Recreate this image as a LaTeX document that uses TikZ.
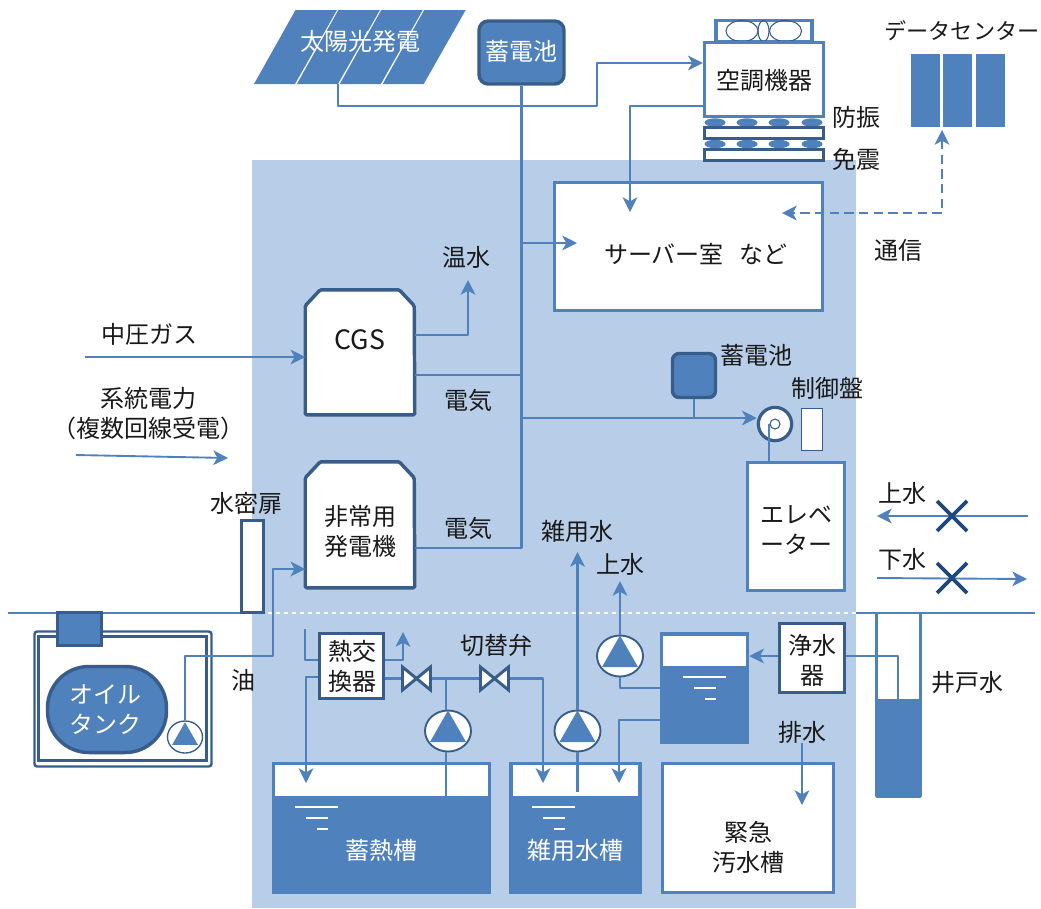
\documentclass[tikz,border=0pt]{standalone}
\usepackage{fontspec}
\setmainfont{Noto Sans CJK JP}
\usetikzlibrary{arrows.meta,shapes.geometric}
\definecolor{mainblue}{HTML}{4F81BD}
\definecolor{darkblue}{HTML}{385D8A}
\definecolor{lightblue}{HTML}{B8CEE8}
\definecolor{crossblue}{HTML}{1F497D}
\tikzset{
	boxsize/.style 2 args={minimum width=(#1-1)*.75pt,minimum height=(#2-1)*.75pt},
	lbl/.style={font=\fontsize{18}{22.5}\selectfont,align=center,inner sep=0pt,text=black!90},
	wlbl/.style={lbl,text=white},
	wire/.style={draw=mainblue,line width=1.75pt,line join=round},
	thinwire/.style={draw=mainblue,line width=1.4pt,line join=round},
	tip/.style={-{Stealth[inset=3pt,length=11pt,width=11pt]}},
	bluebox/.style={rectangle,draw=mainblue,line width=2.6pt,fill=white,inner sep=0pt},
	darkbox/.style={rectangle,draw=darkblue,line width=2.6pt,fill=white,inner sep=0pt},
	battery/.style={rectangle,rounded corners=7pt,draw=darkblue,line width=2.6pt,fill=mainblue,inner sep=0pt},
	wave/.style={draw=white,line width=.9pt},
	cross/.style={draw=crossblue,line width=2.8pt}
}
\begin{document}
\begin{tikzpicture}[x=.75pt,y=-.75pt]
	\useasboundingbox (0,0) rectangle (1041,908);
	\fill[lightblue] (252,160) rectangle (856,908);
	\coordinate (groundA) at (8,613);
	\coordinate (groundB) at (252,613);
	\coordinate (groundC) at (856,613);
	\coordinate (groundD) at (1035,613);
	\draw[mainblue,line width=1.1pt] (groundA) -- (groundB);
	\draw[mainblue,line width=1.1pt] (groundC) -- (groundD);
	\draw[white,line width=1pt,dashed] (groundB) -- (groundC);

	% solar panels and the top row
	\foreach \x in {0,1,2,3}{
		\fill[mainblue] (254+\x*42.9,84) -- (295.5+\x*42.9,10) -- (337+\x*42.9,10) -- (295+\x*42.9,84) -- cycle;
	}
	\node[wlbl] (solar) at (360,41) {太陽光発電};
	\coordinate (solarOut) at (338,84);
	\node[battery,boxsize={86}{64}] (batteryTop) at (521.5,52.5) {};
	\node[wlbl] (batteryTopText) at (521.5,51) {蓄電池};

	% cooling unit
	\node[bluebox,boxsize={97}{22}] (fanBox) at (764,31) {};
	\foreach \x/\r in {742/16,763.5/5.5,785.5/16}{
		\draw[darkblue,line width=.8pt] (\x,31) ellipse ({\r} and {10.5});
	}
	\node[bluebox,boxsize={120}{75}] (cooler) at (764,79.5) {};
	\node[lbl] (coolerText) at (764,80) {空調機器};
	\foreach \y in {122.5,144}{
		\foreach \x in {715,747,779,812}{
			\fill[mainblue] (\x,\y) ellipse ({10.5} and {4.2});
		}
	}
	\node[darkbox,boxsize={120}{12}] (padA) at (764,133) {};
	\node[darkbox,boxsize={120}{12}] (padB) at (764,155) {};
	\node[lbl] (padAText) at (856,117) {防振};
	\node[lbl] (padBText) at (856,159) {免震};

	% data center
	\foreach \x/\name in {925.5/dcA,957.5/dcB,990.5/dcC}{
		\node[rectangle,fill=mainblue,boxsize={30}{74},inner sep=0pt] (\name) at (\x,90.5) {};
	}
	\node[lbl,font=\fontsize{16.6}{20}\selectfont] (dcText) at (962,31) {データセンター};

	% room and generators
	\node[bluebox,boxsize={269}{129}] (room) at (688.5,246.5) {};
	\node[lbl] (roomText) at (696,254) {サーバー室\hspace{12pt}など};
	\node[inner sep=0pt,boxsize={110}{126}] (cgs) at (360,352) {};
	\node[inner sep=0pt,boxsize={110}{127}] (generator) at (360,524.5) {};
	\foreach \name/\h in {cgs/109,generator/110}{
		\draw[darkblue,line width=2.6pt,fill=white,line join=round,rounded corners=1pt]
			(\name.south west) -- ++(0,-\h) -- ++(15,-16) -- ++(79,0) -- ++(15,16) -- (\name.south east) -- cycle;
	}
	\node[lbl,font=\fontsize{20}{24}\selectfont] (cgsText) at (360,340) {CGS};
	\node[lbl] (generatorText) at (360,531) {非常用\\発電機};
	\node[darkbox,boxsize={23}{93}] (door) at (252.5,566.5) {};
	\node[lbl] (doorText) at (246,503) {水密扉};

	% elevator
	\node[bluebox,boxsize={98}{129}] (elevator) at (796,526.5) {};
	\node[lbl] (elevatorText) at (796,530) {エレベ\\ーター};
	\node[battery,rounded corners=5pt,boxsize={44}{45}] (batterySmall) at (694,375.5) {};
	\node[circle,draw=darkblue,line width=2.4pt,fill=white,minimum size=25pt,inner sep=0pt] (motor) at (775,424) {};
	\node[circle,draw=darkblue,line width=.8pt,fill=white,minimum size=7.5pt,inner sep=0pt] (sheave) at (775,424) {};
	\node[rectangle,draw=darkblue,line width=.9pt,fill=white,boxsize={22}{43},inner sep=0pt] (panel) at (812,429.5) {};
	\node[lbl] (batterySmallText) at (756,355) {蓄電池};
	\node[lbl] (panelText) at (827,388) {制御盤};
	\coordinate (ropeTop) at (769,424);
	\draw[thinwire] (ropeTop) -- (ropeTop |- elevator.north);

	% oil tank outside
	\node[darkbox,rounded corners=2pt,line width=1.8pt,boxsize={178}{136}] (oilRoom) at (123,699) {};
	\node[darkbox,line width=1.8pt,boxsize={169}{125}] (oilRoomIn) at (122.5,698.5) {};
	\node[darkbox,fill=mainblue,line width=2pt,boxsize={45}{34}] (hatch) at (79.5,629) {};
	\node[darkbox,fill=mainblue,rounded corners=31pt,boxsize={120}{87}] (oilTank) at (107,709.5) {};
	\node[wlbl] (oilTankText) at (105,710) {オイル\\タンク};

	% tanks
	\node[bluebox,boxsize={217}{130}] (heatTank) at (381.5,828) {};
	\fill[mainblue] (heatTank.west |- 0,796) rectangle (heatTank.south east);
	\node[bluebox,boxsize={130}{130}] (greyTank) at (575.5,828) {};
	\fill[mainblue] (greyTank.west |- 0,796) rectangle (greyTank.south east);
	\node[bluebox,boxsize={172}{130}] (wasteTank) at (748,828) {};
	\node[bluebox,boxsize={87}{109}] (cleanTank) at (704.5,688) {};
	\fill[mainblue] (cleanTank.west |- 0,666) rectangle (cleanTank.south east);
	\node[inner sep=0pt,boxsize={44}{183}] (well) at (898.5,704.5) {};
	\fill[mainblue] (well.west |- 0,699) rectangle (well.south east);
	\draw[mainblue,line width=2.6pt,line join=round] (well.north west) -- (well.south west) -- (well.south east) -- (well.north east);
	\foreach \x/\y in {295/807,532/807,683/677}{
		\draw[wave] (\x,\y) -- ++(43,0);
		\draw[wave] (\x+11,\y+11) -- ++(22,0);
		\draw[wave] (\x+22,\y+22) -- ++(11,0);
	}
	\node[wlbl] (heatTankText) at (381,850) {蓄熱槽};
	\node[wlbl] (greyTankText) at (575,850) {雑用水槽};
	\node[lbl] (wasteTankText) at (748,847) {緊急\\汚水槽};
	\node[darkbox,boxsize={65}{66}] (exchanger) at (351.5,666) {};
	\node[lbl] (exchangerText) at (352,666) {熱交\\換器};
	\node[darkbox,boxsize={66}{70}] (purifier) at (812,658) {};
	\node[lbl] (purifierText) at (812,660) {浄水\\器};

	% power and air conditioning wires
	\coordinate (busA) at (522,375);
	\coordinate (busB) at (522,418);
	\coordinate (busC) at (522,548);
	\coordinate (busD) at (522,243);
	\coordinate (roomIn) at (577,243);
	\coordinate (coolerOut) at (630,106);
	\coordinate (coolIn) at (630,212);
	\coordinate (hotWater) at (468,280);
	\draw[wire,tip] (solarOut) -- ++(0,22) -- ++(259,0) -- ++(0,-43) -- (cooler.west |- 0,63);
	\draw[wire] (batteryTop.south) -- (batteryTop.south |- busC) -- (generator.east |- busC);
	\draw[wire] (cgs.east |- busA) -- (busA);
	\draw[wire,tip] (busD) -- (roomIn);
	\draw[wire,tip] (busB) -- (motor.west |- busB);
	\draw[wire] (batterySmall.south) -- (batterySmall.south |- busB);
	\draw[wire,tip] (cooler.west |- coolerOut) -- (coolerOut) -- (coolIn);
	\draw[wire,tip] (cgs.east |- 0,335) -| (hotWater);
	\coordinate (dcIn) at (942,130);
	\coordinate (roomSignal) at (782,213);
	\draw[wire,dash pattern=on 7pt off 4pt,{Stealth[inset=3pt,length=11pt,width=11pt]}-{Stealth[inset=3pt,length=11pt,width=11pt]}] (dcIn) |- (roomSignal);

	% fuel
	\coordinate (gasIn) at (85,357);
	\coordinate (gridA) at (76,455);
	\coordinate (gridB) at (228,458);
	\draw[thinwire,tip] (gasIn) -- (cgs.west |- gasIn);
	\draw[thinwire,tip] (gridA) -- (gridB);

	% pumps and valves
	\foreach \x/\y/\name in {448/731/pumpA,577.5/731/pumpB,620/656/pumpC}{
		\node[ellipse,draw=darkblue,line width=1.4pt,fill=white,boxsize={47}{42},inner sep=0pt] (\name) at (\x,\y) {};
	}
	\node[ellipse,draw=darkblue,line width=1pt,fill=white,boxsize={36}{33},inner sep=0pt] (pumpOil) at (185,737) {};
	\foreach \x/\name in {416.5/valveA,494.5/valveB}{
		\node[inner sep=0pt,boxsize={32}{25}] (\name) at (\x,678.5) {};
	}
	\coordinate (oilBend) at (273,656);
	\draw[wire,tip] (pumpOil.north) -- (pumpOil.north |- oilBend) -- (oilBend) -- ++(0,-87) -- (generator.west |- 0,569);
	\draw[wire] (305,629) |- (exchanger.west |- 0,660);
	\draw[wire,tip] (exchanger.west |- 0,677) -- (306,677) -- (306,783);
	\draw[wire,tip] (exchanger.east |- 0,660) -| (403,632);
	\draw[wire] (exchanger.east |- valveA) -- (valveA);
	\draw[wire] (valveA) -- (valveB);
	\draw[wire,tip] (valveB.east) -| (543,783);
	\coordinate (teeA) at (446,678.5);
	\draw[wire] (teeA) -- (pumpA.north -| teeA);
	\draw[wire] (pumpA.south -| teeA) -- (446,818);
	\draw[wire,tip] (pumpB.north) -- (577.5,552);
	\draw[wire] (pumpB.south) -- (577.5,792);
	\draw[wire,tip] (pumpC.north) -- (620,581);
	\draw[wire] (pumpC.south) |- (cleanTank.west |- 0,688);
	\draw[wire,tip] (cleanTank.west |- 0,720) -| (619,783);
	\draw[wire,tip] (purifier.west |- 0,656) -- (cleanTank.east |- 0,656);
	\draw[wire] (purifier.east |- 0,656) -| (898,720);
	\draw[wire,tip] (802,743) -- (802,805);
	\foreach \x/\y/\s in {448/731/1,577.5/731/1,620/656/1,185/737/.72}{
		\fill[mainblue] (\x-18*\s,\y+11*\s) -- (\x,\y-20.5*\s) -- (\x+18*\s,\y+11*\s) -- cycle;
	}
	\foreach \x in {416.5,494.5}{
		\draw[darkblue,line width=2.2pt,fill=white,line join=miter] (\x-14,667) -- (\x+14,690) -- (\x+14,667) -- (\x-14,690) -- cycle;
	}

	% city water
	\coordinate (cityIn) at (1028,516);
	\coordinate (cityOut) at (877,516);
	\coordinate (drainIn) at (877,578);
	\coordinate (drainOut) at (1027,579);
	\draw[thinwire,tip] (cityIn) -- (cityOut);
	\draw[thinwire,tip] (drainIn) -- (drainOut);
	\foreach \y in {516,578}{
		\draw[cross] (937,\y-15) -- (967,\y+15);
		\draw[cross] (967,\y-15) -- (937,\y+15);
	}

	% labels
	\node[lbl] (tGas) at (149,334) {中圧ガス};
	\node[lbl] (tGrid) at (148,414) {系統電力\\（複数回線受電）};
	\node[lbl] (tHot) at (466,257) {温水};
	\node[lbl] (tPowerA) at (468,400) {電気};
	\node[lbl] (tPowerB) at (468,528) {電気};
	\node[lbl] (tComm) at (898,250) {通信};
	\node[lbl] (tOil) at (243,680) {油};
	\node[lbl] (tValve) at (496,645) {切替弁};
	\node[lbl] (tGrey) at (577,531) {雑用水};
	\node[lbl] (tCityA) at (620,564) {上水};
	\node[lbl] (tDrain) at (802,732) {排水};
	\node[lbl] (tWell) at (967,683) {井戸水};
	\node[lbl] (tCityB) at (902,493) {上水};
	\node[lbl] (tSewer) at (902,559) {下水};
\end{tikzpicture}
\end{document}
